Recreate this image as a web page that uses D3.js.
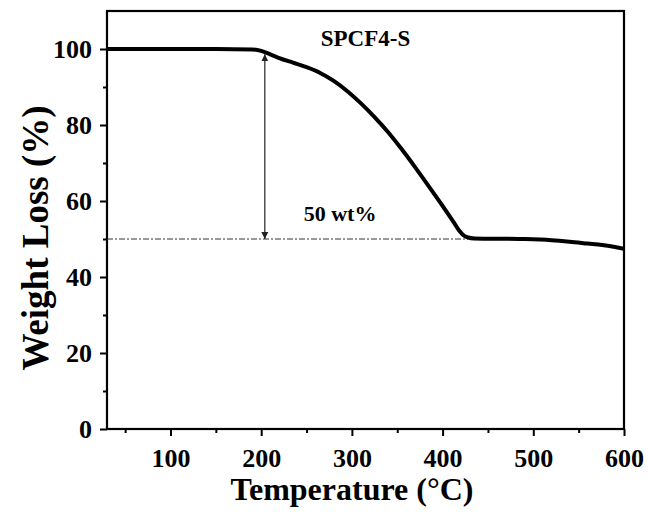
<!DOCTYPE html>
<html>
<head>
<meta charset="utf-8">
<script src="https://cdn.jsdelivr.net/npm/d3@7"></script>
<style>
  body { margin: 0; background: #fff; }
  text { font-family: "Liberation Serif", "Times New Roman", serif; font-weight: bold; fill: #000; }
  .axis path, .axis line { stroke: #000; }
</style>
</head>
<body>
<div id="chart"></div>
<script>
// TGA curve
var temps   = [30, 100, 150, 190, 200, 210, 220, 235, 250, 265, 280, 295, 310, 325, 340, 355, 370, 385, 400, 412, 418, 423, 428, 435, 485, 520, 540, 560, 576, 590, 600];
var weights = [100, 100, 100, 99.9, 99.5, 98.6, 97.6, 96.4, 95.2, 93.7, 91.6, 88.9, 85.7, 82.1, 78.1, 73.6, 68.8, 63.8, 58.7, 54.5, 52.3, 51.0, 50.4, 50.15, 50.0, 49.7, 49.3, 48.8, 48.4, 47.9, 47.4];

var xTicks = [100, 200, 300, 400, 500, 600];
var xMinor = [50, 150, 250, 350, 450, 550];
var yTicks = [0, 20, 40, 60, 80, 100];
var yMinor = [10, 30, 50, 70, 90];

var refLevel = 50, refEndT = 428;          // dash-dot 50 wt% line
var arrowT = 204, arrowTop = 98.6;          // double arrow

var W = 648, H = 516;
var margin = {top: 11, right: 24, bottom: 87, left: 107},
    width = W - margin.left - margin.right,
    height = H - margin.top - margin.bottom;

var x = d3.scaleLinear().domain([30, 600]).range([0, width]);
var y = d3.scaleLinear().domain([0, 110]).range([height, 0]);

var svg = d3.select("#chart").append("svg")
    .attr("width", W)
    .attr("height", H);

var defs = svg.append("defs");
defs.append("marker")
    .attr("id", "head")
    .attr("viewBox", "0 0 10 10")
    .attr("refX", 10).attr("refY", 5)
    .attr("markerWidth", 7).attr("markerHeight", 10)
    .attr("markerUnits", "userSpaceOnUse")
    .attr("orient", "auto-start-reverse")
  .append("path")
    .attr("d", "M0,0L10,5L0,10Z")
    .attr("fill", "#222");

var g = svg.append("g")
    .attr("transform", "translate(" + margin.left + "," + margin.top + ")");

// minor ticks
g.append("g")
    .attr("class", "axis")
    .attr("transform", "translate(0," + height + ")")
    .call(d3.axisBottom(x).tickValues(xMinor).tickSize(4).tickFormat(""))
    .call(function(a) { a.select(".domain").remove(); a.selectAll("line").attr("stroke-width", 2); });

g.append("g")
    .attr("class", "axis")
    .call(d3.axisLeft(y).tickValues(yMinor).tickSize(4).tickFormat(""))
    .call(function(a) { a.select(".domain").remove(); a.selectAll("line").attr("stroke-width", 2); });

// major ticks
var xAxis = g.append("g")
    .attr("class", "axis")
    .attr("transform", "translate(0," + height + ")")
    .call(d3.axisBottom(x).tickValues(xTicks).tickSize(7).tickPadding(8).tickSizeOuter(0));
xAxis.select(".domain").remove();
xAxis.selectAll("line").attr("stroke-width", 2);
xAxis.selectAll("text").style("font-size", "26px").attr("dy", "0.9em");

var yAxis = g.append("g")
    .attr("class", "axis")
    .call(d3.axisLeft(y).tickValues(yTicks).tickSize(7).tickPadding(8).tickSizeOuter(0));
yAxis.select(".domain").remove();
yAxis.selectAll("line").attr("stroke-width", 2);
yAxis.selectAll("text").style("font-size", "26px").attr("dy", "0.34em");

// frame
g.append("rect")
    .attr("width", width)
    .attr("height", height)
    .attr("fill", "none")
    .attr("stroke", "#000")
    .attr("stroke-width", 2.2);

// 50 wt% reference
g.append("line")
    .attr("x1", x(30)).attr("x2", x(refEndT))
    .attr("y1", y(refLevel)).attr("y2", y(refLevel))
    .attr("stroke", "#333")
    .attr("stroke-width", 1)
    .attr("stroke-dasharray", "6,2,2,2");

g.append("line")
    .attr("x1", x(arrowT)).attr("x2", x(arrowT))
    .attr("y1", y(arrowTop)).attr("y2", y(refLevel))
    .attr("stroke", "#222")
    .attr("stroke-width", 1.2)
    .attr("marker-start", "url(#head)")
    .attr("marker-end", "url(#head)");

// curve
var data = temps.map(function(t, i) { return {T: t, w: weights[i]}; });
var line = d3.line()
    .x(function(d) { return x(d.T); })
    .y(function(d) { return y(d.w); })
    .curve(d3.curveMonotoneX);

g.append("path")
    .attr("d", line(data))
    .attr("fill", "none")
    .attr("stroke", "#000")
    .attr("stroke-width", 4)
    .attr("stroke-linejoin", "round");

// labels
g.append("text")
    .attr("x", x(315)).attr("y", 35)
    .attr("text-anchor", "middle")
    .style("font-size", "23px")
    .text("SPCF4-S");

g.append("text")
    .attr("x", x(287)).attr("y", y(refLevel) - 18)
    .attr("text-anchor", "middle")
    .style("font-size", "22px")
    .text("50 wt%");

svg.append("text")
    .attr("x", 352).attr("y", 500)
    .attr("text-anchor", "middle")
    .style("font-size", "32px")
    .text("Temperature (\u00B0C)");

svg.append("text")
    .attr("transform", "translate(48," + 238 + ") rotate(-90)")
    .attr("text-anchor", "middle")
    .style("font-size", "37px")
    .text("Weight Loss (%)");
</script>
</body>
</html>
